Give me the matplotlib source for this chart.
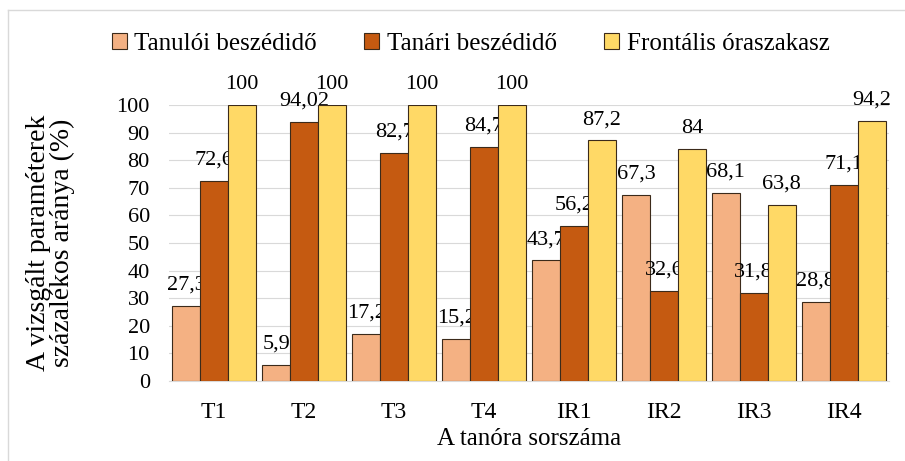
import matplotlib

matplotlib.use("Agg")
import matplotlib.pyplot as plt
import numpy as np
from matplotlib.lines import Line2D

categories = ["T1", "T2", "T3", "T4", "IR1", "IR2", "IR3", "IR4"]
series_names = ["Tanulói beszédidő", "Tanári beszédidő", "Frontális óraszakasz"]
tanuloi = [27.3, 5.9, 17.2, 15.2, 43.7, 67.3, 68.1, 28.8]
tanari = [72.6, 94.02, 82.7, 84.7, 56.2, 32.6, 31.8, 71.1]
frontalis = [100, 100, 100, 100, 87.2, 84, 63.8, 94.2]
colors = ["#F4B183", "#C55A11", "#FFD966"]

plt.rcParams["font.family"] = ["Liberation Serif", "DejaVu Serif"]

fig = plt.figure(figsize=(9.05, 4.61), dpi=100)
ax = fig.add_axes([0.187, 0.1735, 0.795, 0.5985])

x = np.arange(len(categories))
w = 0.31
for i, (vals, name, col) in enumerate(zip([tanuloi, tanari, frontalis], series_names, colors)):
    pos = x + (i - 1) * w
    ax.bar(pos, vals, w, color=col, edgecolor="#3b2a1a", linewidth=0.8, label=name, zorder=3)
    for xp, v in zip(pos, vals):
        lab = f"{v:g}".replace(".", ",")
        ax.annotate(lab, (xp, v), xytext=(0, 15), textcoords="offset points",
                    ha="center", va="center", fontsize=16, annotation_clip=False)

ax.set_xlim(-0.5, len(categories) - 0.5)
ax.set_ylim(0, 100)
ax.set_yticks(range(0, 101, 10))
ax.set_xticks(x)
ax.set_xticklabels(categories)
ax.tick_params(axis="both", length=0, labelsize=16)
ax.tick_params(axis="x", pad=15, labelsize=17)
ax.tick_params(axis="y", pad=14)
ax.grid(axis="y", color="#D9D9D9", linewidth=0.8, zorder=0)
for s in ["left", "right", "top"]:
    ax.spines[s].set_visible(False)
ax.spines["bottom"].set_color("#D9D9D9")

ax.set_xlabel("A tanóra sorszáma", fontsize=18, labelpad=4)
ax.set_ylabel("A vizsgált paraméterek\nszázalékos aránya (%)", fontsize=20, labelpad=30,
              linespacing=0.95)

fig.legend(loc="center", bbox_to_anchor=(0.52, 0.905), ncol=3, frameon=False,
           fontsize=18, handlelength=0.6, handleheight=0.6, handletextpad=0.3,
           columnspacing=1.9)

# light chart-area border
fig.add_artist(Line2D([0.009, 0.009], [0, 0.978], transform=fig.transFigure,
                      color="#D9D9D9", linewidth=1))
fig.add_artist(Line2D([0.009, 1.0], [0.978, 0.978], transform=fig.transFigure,
                      color="#D9D9D9", linewidth=1))

fig.savefig("out.png", dpi=100)
